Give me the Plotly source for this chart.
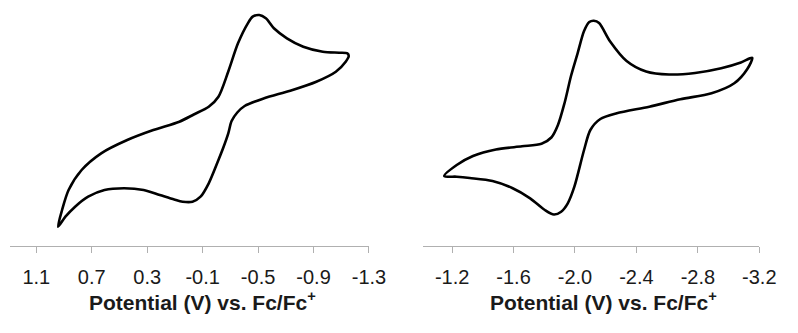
import plotly.graph_objects as go

# Left voltammogram (potential V vs Fc/Fc+, current in arbitrary units)
left_potential = [0.943, 0.914, 0.867, 0.773, 0.632, 0.444, 0.256, 0.068, -0.036, -0.144,
                  -0.214, -0.285, -0.355, -0.426, -0.461, -0.509, -0.556, -0.614, -0.708,
                  -0.826, -0.967, -1.085, -1.144, -1.154,
                  -1.132, -1.061, -0.920, -0.732, -0.544, -0.403, -0.350, -0.309, -0.285,
                  -0.248, -0.214, -0.144, -0.085, -0.027, 0.044, 0.105, 0.209, 0.326,
                  0.467, 0.608, 0.726, 0.820, 0.890, 0.943]
left_current = [1.93, 3.6, 5.6, 7.6, 9.27, 10.6, 11.6, 12.43, 13.15, 13.93,
                14.93, 17.45, 20.27, 22.27, 22.93, 23.1, 22.77, 21.77, 20.77,
                19.93, 19.43, 19.33, 19.27, 19.0,
                18.43, 17.43, 16.43, 15.53, 14.77, 14.0, 13.35, 12.5, 11.27,
                9.8, 8.6, 6.27, 4.93, 4.43, 4.43, 4.65, 5.1, 5.6,
                5.77, 5.6, 4.93, 3.93, 2.93, 1.93]

# Right voltammogram
right_potential = [-1.149, -1.230, -1.336, -1.485, -1.655, -1.782, -1.846, -1.889, -1.932,
                   -1.974, -2.017, -2.059, -2.093, -2.123, -2.157, -2.229, -2.336, -2.463,
                   -2.612, -2.782, -2.952, -3.080, -3.154,
                   -3.122, -3.037, -2.889, -2.686, -2.484, -2.272, -2.165, -2.100, -2.059,
                   -1.996, -1.953, -1.910, -1.863, -1.804, -1.708, -1.591, -1.463, -1.315,
                   -1.230, -1.149]
right_current = [7.0, 8.1, 9.0, 9.65, 9.97, 10.23, 10.85, 12.1, 14.3,
                 17.0, 19.27, 21.5, 22.4, 22.53, 22.3, 20.45, 18.5, 17.45,
                 17.15, 17.3, 17.77, 18.35, 18.82,
                 17.7, 16.27, 15.27, 14.68, 13.93, 13.27, 12.7, 11.6, 9.6,
                 5.93, 4.27, 3.43, 3.15, 3.6, 4.77, 5.8, 6.5, 6.8,
                 6.93, 7.0]

left_ticks = [1.1, 0.7, 0.3, -0.1, -0.5, -0.9, -1.3]
left_ticktext = ["1.1", "0.7", "0.3", "-0.1", "-0.5", "-0.9", "-1.3"]
right_ticks = [-1.2, -1.6, -2.0, -2.4, -2.8, -3.2]
right_ticktext = ["-1.2", "-1.6", "-2.0", "-2.4", "-2.8", "-3.2"]
axis_title = "Potential (V) vs. Fc/Fc<sup>+</sup>"

FONT = "Liberation Sans, Arial, sans-serif"

# The page body keeps the browser's default 8px margin, so the figure is
# sized to fit inside it.
W, H, OFF = 782, 317, 8


def fx(px):
    return (px - OFF) / W


def fy(py):
    return (H - (py - OFF)) / H


fig = go.Figure()
fig.add_trace(go.Scatter(x=left_potential, y=left_current, mode="lines",
                         line=dict(color="black", width=2.6, shape="spline", smoothing=0.8),
                         xaxis="x", yaxis="y", showlegend=False, hoverinfo="skip"))
fig.add_trace(go.Scatter(x=right_potential, y=right_current, mode="lines",
                         line=dict(color="black", width=2.6, shape="spline", smoothing=0.8),
                         xaxis="x2", yaxis="y2", showlegend=False, hoverinfo="skip"))

xcommon = dict(showgrid=False, zeroline=False, showline=True, linecolor="#b0b0b0", linewidth=1.3,
               ticks="outside", ticklen=6, tickwidth=1.2, tickcolor="#b0b0b0",
               ticklabelstandoff=7,
               tickfont=dict(family=FONT, size=20, color="#1a1a1a"))
ycommon = dict(visible=False, range=[0, 23.6], showgrid=False, zeroline=False)

title_y = fy(301)

fig.update_layout(
    width=W, height=H,
    margin=dict(l=0, r=0, t=0, b=0),
    paper_bgcolor="white", plot_bgcolor="white",
    xaxis=dict(**xcommon, anchor="y", domain=[fx(10), fx(377)], range=[1.29, -1.3],
               tickmode="array", tickvals=left_ticks, ticktext=left_ticktext),
    yaxis=dict(**ycommon, domain=[fy(246), fy(10)], anchor="x"),
    xaxis2=dict(**xcommon, anchor="y2", domain=[fx(432), fx(776)], range=[-1.009, -3.2],
                tickmode="array", tickvals=right_ticks, ticktext=right_ticktext),
    yaxis2=dict(**ycommon, domain=[fy(246), fy(10)], anchor="x2"),
    annotations=[
        dict(text=axis_title, x=fx(207), y=title_y, xref="paper", yref="paper",
             showarrow=False, xanchor="center", yanchor="middle",
             font=dict(family=FONT, size=21, color="#1a1a1a", weight="bold")),
        dict(text=axis_title, x=fx(617), y=title_y, xref="paper", yref="paper",
             showarrow=False, xanchor="center", yanchor="middle",
             font=dict(family=FONT, size=21, color="#1a1a1a", weight="bold")),
    ],
)

fig.write_html("out.html")
